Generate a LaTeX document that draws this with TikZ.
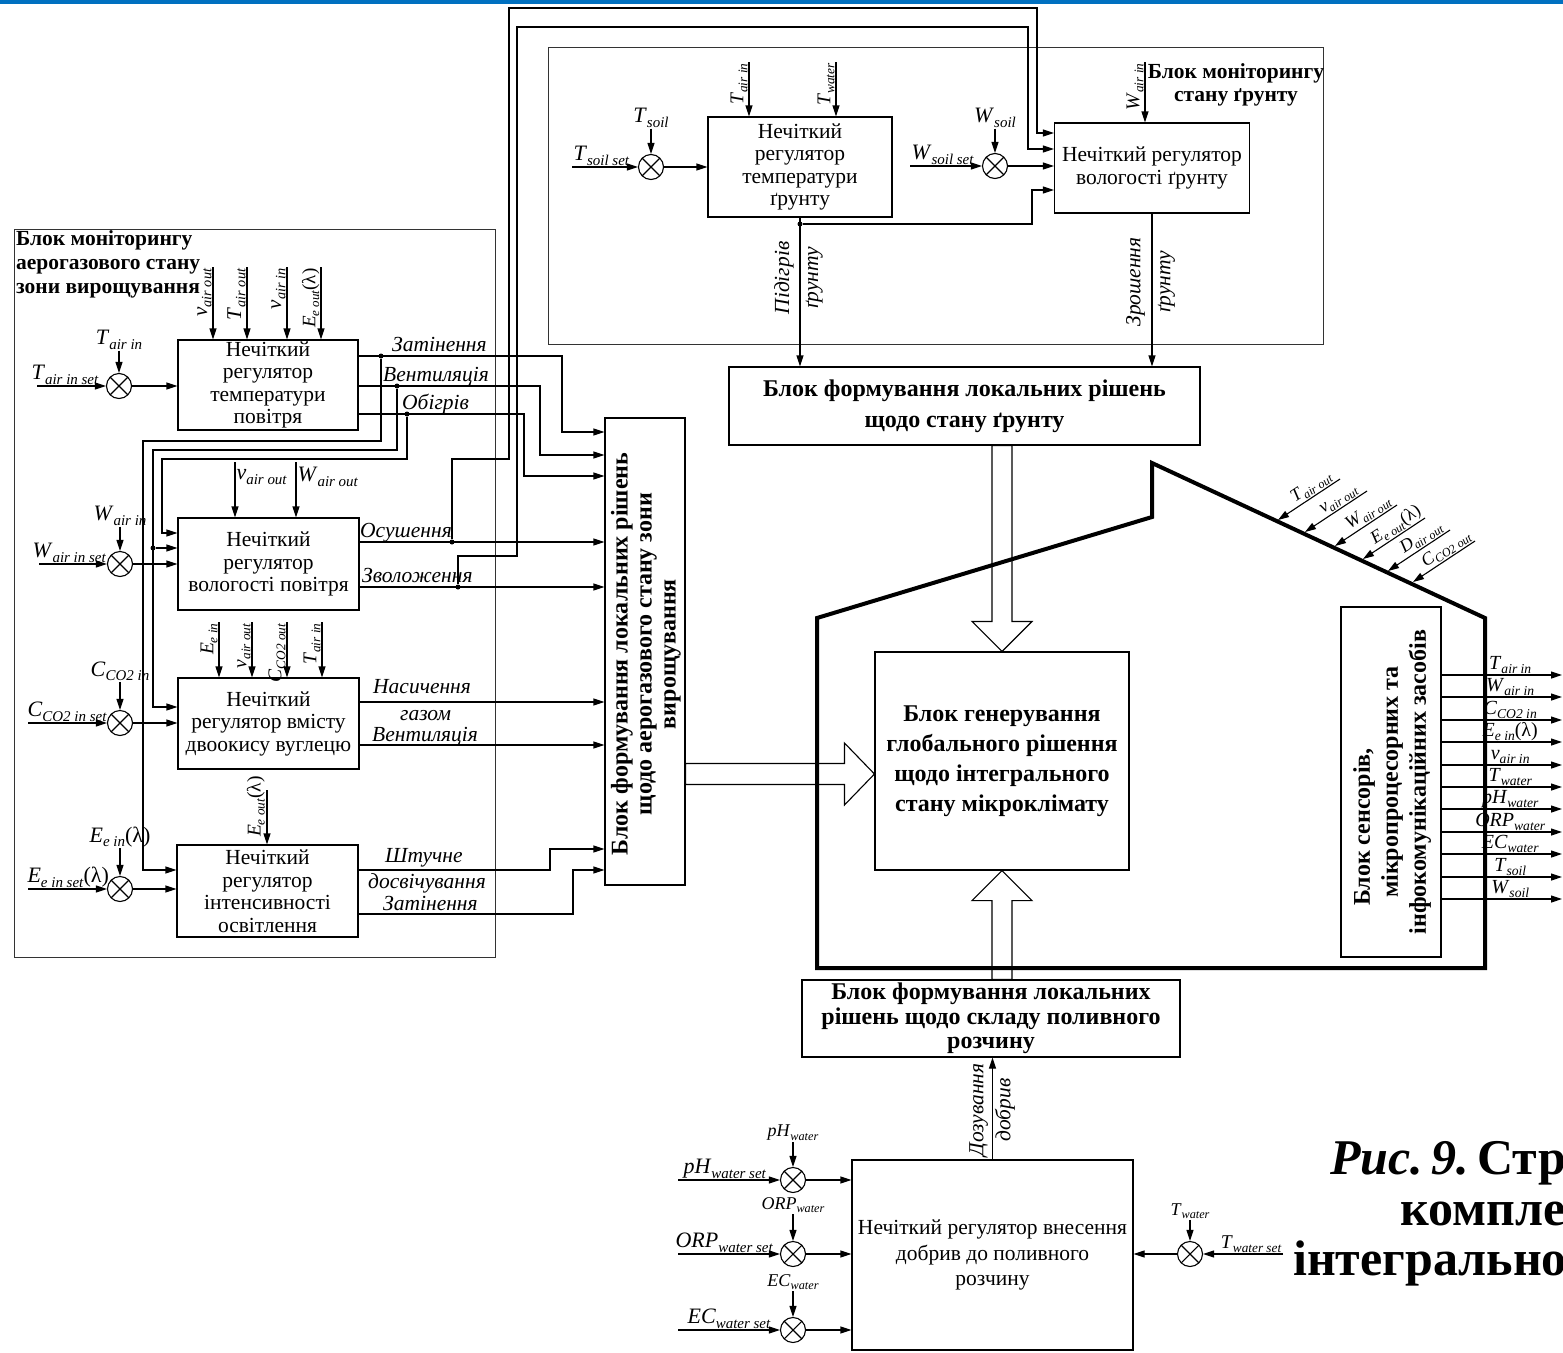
\documentclass[tikz,border=0pt]{standalone}
\usepackage{fontspec}
\setmainfont{Liberation Serif}
\usetikzlibrary{arrows.meta,calc}
\definecolor{topband}{RGB}{0,112,192}
% variable with an italic subscript
\newcommand\qv[2]{\textit{#1}\raisebox{-0.2em}{\scalebox{0.68}{\textit{#2}}}}

\tikzset{
  ln/.style={line width=1.1pt, draw=black},
  arr/.style={ln, -{Triangle[length=11pt,width=7pt]}},
  rarr/.style={ln, {Triangle[length=11pt,width=7pt]}-},
  frame/.style={draw=black!80, line width=1pt, inner sep=0pt},
  blk/.style={draw, line width=1.1pt, align=center, inner sep=1pt, font={\fontsize{21.5}{22.5}\selectfont}},
  bbox/.style={draw, line width=1.1pt, inner sep=0pt},
  btxt/.style={align=center, inner sep=0pt, font={\fontsize{24}{30}\selectfont\bfseries}},
  ttl/.style={inner sep=1pt, font={\fontsize{21.5}{24}\selectfont\bfseries}},
  sumj/.style={circle, draw, line width=1.1pt, minimum size=25pt, inner sep=0pt,
    path picture={\draw[line width=1.1pt] (path picture bounding box.north west) -- (path picture bounding box.south east)
      (path picture bounding box.south west) -- (path picture bounding box.north east);}},
  dotj/.style={circle, fill, inner sep=0pt, minimum size=5pt},
  lab/.style={inner sep=1pt, font={\fontsize{22}{24}\selectfont}},
  qlab/.style={inner sep=1pt, anchor=south, font={\fontsize{20}{22}\selectfont}},
  slab/.style={inner sep=1pt, font={\fontsize{18}{20}\selectfont}},
  vlab/.style={rotate=90, anchor=south east, inner sep=1pt, font={\fontsize{19.5}{21}\selectfont}},
  olab/.style={inner sep=0pt, anchor=base west, font={\fontsize{21.5}{24}\selectfont\itshape}},
  rlab/.style={rotate=90, align=center, inner sep=0pt, font={\fontsize{21.5}{29}\selectfont\itshape}},
  hol/.style={line width=1.1pt, draw=black, line join=miter},
  house/.style={line width=4pt, draw=black, line join=miter},
  captxt/.style={inner sep=0pt, anchor=base west, font={\fontsize{50}{52}\selectfont\bfseries}}
}

\begin{document}
\begin{tikzpicture}[x=1pt,y=-1pt]
\useasboundingbox (0,0) rectangle (1563,1352);
\clip (0,0) rectangle (1563,1352);
\fill[white] (0,0) rectangle (1563,1352);
\fill[topband] (0,0) rectangle (1563,4);

% ================= air monitoring block =================
\node[frame, minimum width=481, minimum height=728] (airmon) at (254.5,593) {};
\node[ttl, anchor=north west, align=left] (airttl) at (15,229) {Блок моніторингу\\аерогазового стану\\зони вирощування};

\node[blk, minimum width=180, minimum height=90] (tr) at (268,385) {Нечіткий\\регулятор\\температури\\повітря};
\node[blk, minimum width=181, minimum height=92] (hr) at (268.5,564) {Нечіткий\\регулятор\\вологості повітря};
\node[blk, minimum width=181, minimum height=91] (cr) at (268.5,723.5) {Нечіткий\\регулятор вмісту\\двоокису вуглецю};
\node[blk, minimum width=181, minimum height=92] (lr) at (267.5,891) {Нечіткий\\регулятор\\інтенсивності\\освітлення};

\node[bbox, minimum width=80, minimum height=467] (dec) at (645,651.5) {};
\node[btxt, rotate=90, font={\fontsize{24}{24}\selectfont\bfseries}] (dectxt) at (646,654) {Блок формування локальних рішень\\щодо аерогазового стану зони\\вирощування};

% air temperature loop
\node[sumj] (sTa) at (119,386) {};
\node[lab] (lTa) at (119,340) {\qv{T}{air in}};
\coordinate (iTa) at (37,386);
\draw[arr] (lTa) -- (sTa);
\draw[arr] (iTa) -- (sTa) node[pos=0, lab, anchor=south west, xshift=-7] (nTa) {\qv{T}{air in set}};
\draw[arr] (sTa) -- (sTa -| tr.west);
\coordinate (tA1) at (213,267);
\coordinate (tA2) at (247,267);
\coordinate (tA3) at (287,267);
\coordinate (tA4) at (321,267);
\draw[arr] (tA1) -- (tA1 |- tr.north) node[pos=0, vlab, font={\fontsize{21}{23}\selectfont}] (ltA1) {\qv{v}{air out}};
\draw[arr] (tA2) -- (tA2 |- tr.north) node[pos=0, vlab, font={\fontsize{21}{23}\selectfont}] (ltA2) {\qv{T}{air out}};
\draw[arr] (tA3) -- (tA3 |- tr.north) node[pos=0, vlab, font={\fontsize{21}{23}\selectfont}] (ltA3) {\qv{v}{air in}};
\draw[arr] (tA4) -- (tA4 |- tr.north) node[pos=0, vlab, font={\fontsize{19}{21}\selectfont}] (ltA4) {\qv{E}{e out}(λ)};

\node[dotj] (d1) at (381,356) {};
\node[dotj] (d2) at (397,386) {};
\node[dotj] (d3) at (407,414) {};
\coordinate (b1) at (562,432);
\coordinate (b2) at (540,455);
\coordinate (b3) at (524,476);
\draw[arr] (tr.east |- d1) -| (b1) -- (b1 -| dec.west);
\draw[arr] (tr.east |- d2) -| (b2) -- (b2 -| dec.west);
\draw[arr] (tr.east |- d3) -| (b3) -- (b3 -| dec.west);
\node[olab] (oT1) at (392,351) {Затінення};
\node[olab] (oT2) at (383,381) {Вентиляція};
\node[olab] (oT3) at (402,409) {Обігрів};

\coordinate (c1) at (143,441);
\coordinate (e1) at (143,870);
\coordinate (c2) at (153,450);
\coordinate (e2) at (153,707);
\coordinate (c3) at (162,459);
\coordinate (e3) at (162,533);
\draw[arr] (d1) |- (c1) -- (e1) -- (e1 -| lr.west);
\draw[arr] (d2) |- (c2) -- (e2) -- (e2 -| cr.west);
\node[dotj] (d4) at (153,548) {};
\draw[arr] (d4) -- (d4 -| hr.west);
\draw[arr] (d3) |- (c3) -- (e3) -- (e3 -| hr.west);

% air humidity loop
\node[sumj] (sWa) at (120,564) {};
\node[lab] (lWa) at (120,516) {\qv{W}{air in}};
\coordinate (iWa) at (39,564);
\draw[arr] (lWa) -- (sWa);
\draw[arr] (iWa) -- (sWa) node[pos=0, lab, anchor=south west, xshift=-8] (nWa) {\qv{W}{air in set}};
\draw[arr] (sWa) -- (sWa -| hr.west);
\coordinate (hA1) at (235,462);
\coordinate (hA2) at (296,462);
\draw[arr] (hA1) -- (hA1 |- hr.north) node[pos=0.27, lab, anchor=west] (lhA1) {\qv{v}{air out}};
\draw[arr] (hA2) -- (hA2 |- hr.north) node[pos=0.27, lab, anchor=west] (lhA2) {\qv{W}{air out}};

\node[dotj] (d5) at (452,542) {};
\node[dotj] (d6) at (458,587) {};
\draw[arr] (hr.east |- d5) -- (d5 -| dec.west);
\draw[arr] (hr.east |- d6) -- (d6 -| dec.west);
\node[olab] (oH1) at (360,537) {Осушення};
\node[olab] (oH2) at (362,582) {Зволоження};

% air CO2 loop
\node[sumj] (sCa) at (120,723) {};
\node[lab] (lCa) at (120,671) {\qv{C}{CO2 in}};
\coordinate (iCa) at (28,723);
\draw[arr] (lCa) -- (sCa);
\draw[arr] (iCa) -- (sCa) node[pos=0, lab, anchor=south west, xshift=-2] (nCa) {\qv{C}{CO2 in set}};
\draw[arr] (sCa) -- (sCa -| cr.west);
\coordinate (cA1) at (219,622);
\coordinate (cA2) at (252,622);
\coordinate (cA3) at (287,622);
\coordinate (cA4) at (322,622);
\draw[arr] (cA1) -- (cA1 |- cr.north) node[pos=0, vlab] (lcA1) {\qv{E}{e in}};
\draw[arr] (cA2) -- (cA2 |- cr.north) node[pos=0, vlab] (lcA2) {\qv{v}{air out}};
\draw[arr] (cA3) -- (cA3 |- cr.north) node[pos=0, vlab] (lcA3) {\qv{C}{CO2 out}};
\draw[arr] (cA4) -- (cA4 |- cr.north) node[pos=0, vlab] (lcA4) {\qv{T}{air in}};
\coordinate (k1) at (600,702);
\coordinate (k2) at (600,745);
\draw[arr] (cr.east |- k1) -- (k1 -| dec.west);
\draw[arr] (cr.east |- k2) -- (k2 -| dec.west);
\node[olab] (oC1) at (373,693) {Насичення};
\node[olab] (oC2) at (400,720) {газом};
\node[olab] (oC3) at (372,741) {Вентиляція};

% illumination loop
\node[sumj] (sEa) at (120,889) {};
\node[lab] (lEa) at (120,837) {\qv{E}{e in}(λ)};
\coordinate (iEa) at (28,889);
\draw[arr] (lEa) -- (sEa);
\draw[arr] (iEa) -- (sEa) node[pos=0, lab, anchor=south west, xshift=-2] (nEa) {\qv{E}{e in set}(λ)};
\draw[arr] (sEa) -- (sEa -| lr.west);
\coordinate (lA1) at (267,790);
\draw[arr] (lA1) -- (lA1 |- lr.north);
\node[vlab] (llA1) at (266,775) {\qv{E}{e out}(λ)};
\coordinate (m1) at (550,849);
\coordinate (m2) at (573,870);
\coordinate (m3) at (573,914);
\draw[arr] (lr.east |- e1) -- (m1 |- e1) -- (m1) -- (m1 -| dec.west);
\draw[arr] (lr.east |- m3) -- (m3) -- (m2) -- (m2 -| dec.west);
\node[olab] (oL1) at (385,862) {Штучне};
\node[olab] (oL2) at (368,888) {досвічування};
\node[olab] (oL3) at (383,910) {Затінення};

% ================= soil monitoring block =================
\node[frame, minimum width=775, minimum height=297] (soilmon) at (935.5,195.5) {};
\node[ttl, align=center, font={\fontsize{21.5}{23}\selectfont\bfseries}] (soilttl) at (1236,85) {Блок моніторингу\\стану ґрунту};
\node[blk, minimum width=184, minimum height=100] (str) at (800,167) {Нечіткий\\регулятор\\температури\\ґрунту};
\node[blk, minimum width=195, minimum height=90] (shr) at (1152,168) {Нечіткий регулятор\\вологості ґрунту};
\node[bbox, btxt, font={\fontsize{24}{31}\selectfont\bfseries}, minimum width=471, minimum height=78] (sdec) at (964.5,406) {Блок формування локальних рішень\\щодо стану ґрунту};

\node[sumj] (sTs) at (651,167) {};
\node[lab] (lTs) at (651,118) {\qv{T}{soil}};
\coordinate (iTs) at (572,167);
\draw[arr] (lTs) -- (sTs);
\draw[arr] (iTs) -- (sTs) node[pos=0, lab, anchor=south west] (nTs) {\qv{T}{soil set}};
\draw[arr] (sTs) -- (sTs -| str.west);

\node[sumj] (sWs) at (995,166) {};
\node[lab] (lWs) at (995,118) {\qv{W}{soil}};
\coordinate (iWs) at (910,166);
\draw[arr] (lWs) -- (sWs);
\draw[arr] (iWs) -- (sWs) node[pos=0, lab, anchor=south west] (nWs) {\qv{W}{soil set}};
\draw[arr] (sWs) -- (sWs -| shr.west);

\coordinate (sA1) at (749,62);
\coordinate (sA2) at (836,62);
\coordinate (sA3) at (1145,62);
\draw[arr] (sA1) -- (sA1 |- str.north) node[pos=0, vlab] (lsA1) {\qv{T}{air in}};
\draw[arr] (sA2) -- (sA2 |- str.north) node[pos=0, vlab] (lsA2) {\qv{T}{water}};
\draw[arr] (sA3) -- (sA3 |- shr.north) node[pos=0, vlab] (lsA3) {\qv{W}{air in}};

\draw[arr] (str.south) -- (str.south |- sdec.north);
\node[dotj] (d7) at (800,224) {};
\coordinate (g3) at (1032,190);
\draw[arr] (d7) -| (g3) -- (g3 -| shr.west);
\draw[arr] (shr.south) -- (shr.south |- sdec.north);
\node[rlab] (pidl) at (798.5,278) {Підігрів\\ґрунту};
\node[rlab, font={\fontsize{21.5}{30}\selectfont\itshape}] (zrol) at (1150.5,282) {Зрошення\\ґрунту};

% feedback lines from the air humidity controller to the soil humidity controller
\coordinate (f1) at (509,459);
\coordinate (f2) at (509,8);
\coordinate (f3) at (1037,8);
\coordinate (g1) at (1037,133);
\draw[arr] (d5) |- (f1) -- (f2) -- (f3) -- (g1) -- (g1 -| shr.west);
\coordinate (f4) at (517,556);
\coordinate (f5) at (517,27);
\coordinate (f6) at (1028,27);
\coordinate (g2) at (1028,149);
\draw[arr] (d6) |- (f4) -- (f5) -- (f6) -- (g2) -- (g2 -| shr.west);

% ================= global block =================
\node[bbox, btxt, minimum width=254, minimum height=218] (glob) at (1002,761) {Блок генерування\\глобального рішення\\щодо інтегрального\\стану мікроклімату};

% sensors block
\node[bbox, minimum width=100, minimum height=350] (sens) at (1391,782) {};
\node[btxt, rotate=90, font={\fontsize{24}{28}\selectfont\bfseries}] (senstxt) at (1392,782) {Блок сенсорів,\hspace*{90pt}\\мікропроцесорних та\\інфокомунікаційних засобів};
\coordinate (q1) at (1562,675);
\coordinate (q2) at (1562,697);
\coordinate (q3) at (1562,720);
\coordinate (q4) at (1562,742);
\coordinate (q5) at (1562,765);
\coordinate (q6) at (1562,787);
\coordinate (q7) at (1562,809);
\coordinate (q8) at (1562,832);
\coordinate (q9) at (1562,854);
\coordinate (q10) at (1562,877);
\coordinate (q11) at (1562,899);
\draw[arr] (q1 -| sens.east) -- (q1) node[pos=0.57, qlab] (lq1) {\qv{T}{air in}};
\draw[arr] (q2 -| sens.east) -- (q2) node[pos=0.57, qlab] (lq2) {\qv{W}{air in}};
\draw[arr] (q3 -| sens.east) -- (q3) node[pos=0.57, qlab] (lq3) {\qv{C}{CO2 in}};
\draw[arr] (q4 -| sens.east) -- (q4) node[pos=0.57, qlab] (lq4) {\qv{E}{e in}(λ)};
\draw[arr] (q5 -| sens.east) -- (q5) node[pos=0.57, qlab] (lq5) {\qv{v}{air in}};
\draw[arr] (q6 -| sens.east) -- (q6) node[pos=0.57, qlab] (lq6) {\qv{T}{water}};
\draw[arr] (q7 -| sens.east) -- (q7) node[pos=0.57, qlab] (lq7) {\qv{pH}{water}};
\draw[arr] (q8 -| sens.east) -- (q8) node[pos=0.57, qlab] (lq8) {\qv{ORP}{water}};
\draw[arr] (q9 -| sens.east) -- (q9) node[pos=0.57, qlab] (lq9) {\qv{EC}{water}};
\draw[arr] (q10 -| sens.east) -- (q10) node[pos=0.57, qlab] (lq10) {\qv{T}{soil}};
\draw[arr] (q11 -| sens.east) -- (q11) node[pos=0.57, qlab] (lq11) {\qv{W}{soil}};

% outdoor measurements on the roof
\coordinate (rh1) at (1278,520);
\coordinate (rh2) at (1305,532);
\coordinate (rh3) at (1335,546);
\coordinate (rh4) at (1363,559);
\coordinate (rh5) at (1388,571);
\coordinate (rh6) at (1413,582);
\draw[rarr] (rh1) -- ++(62,-41) node[pos=0.62, sloped, above, slab] (lr1) {\qv{T}{air out}};
\draw[rarr] (rh2) -- ++(62,-41) node[pos=0.62, sloped, above, slab] (lr2) {\qv{v}{air out}};
\draw[rarr] (rh3) -- ++(62,-41) node[pos=0.62, sloped, above, slab] (lr3) {\qv{W}{air out}};
\draw[rarr] (rh4) -- ++(62,-41) node[pos=0.62, sloped, above, slab] (lr4) {\qv{E}{e out}(λ)};
\draw[rarr] (rh5) -- ++(62,-41) node[pos=0.62, sloped, above, slab] (lr5) {\qv{D}{air out}};
\draw[rarr] (rh6) -- ++(62,-41) node[pos=0.62, sloped, above, slab] (lr6) {\qv{C}{CO2 out}};

% ================= fertiliser block =================
\node[bbox, btxt, font={\fontsize{24}{24.5}\selectfont\bfseries}, minimum width=378, minimum height=77] (fdec) at (991,1018.5) {Блок формування локальних\\рішень щодо складу поливного\\розчину};
\node[blk, font={\fontsize{21.5}{25.5}\selectfont}, minimum width=281, minimum height=190] (frg) at (992.5,1255) {Нечіткий регулятор внесення\\добрив до поливного\\розчину};
\draw[arr] (frg.north) -- (frg.north |- fdec.south);
\node[rlab, font={\fontsize{21.5}{27}\selectfont\itshape}] (dozl) at (992,1110) {Дозування\\добрив};

\node[sumj] (spH) at (793,1180) {};
\node[sumj] (sORP) at (793,1254) {};
\node[sumj] (sEC) at (793,1330) {};
\node[slab] (lpH) at (793,1133) {\qv{pH}{water}};
\node[slab] (lORP) at (793,1205) {\qv{ORP}{water}};
\node[slab] (lEC) at (793,1282) {\qv{EC}{water}};
\draw[arr] (lpH) -- (spH);
\draw[arr] (lORP) -- (sORP);
\draw[arr] (lEC) -- (sEC);
\coordinate (ipH) at (678,1180);
\coordinate (iORP) at (678,1254);
\coordinate (iEC) at (678,1330);
\draw[arr] (ipH) -- (spH) node[pos=0, lab, anchor=south west, xshift=4] (npH) {\qv{pH}{water set}};
\draw[arr] (iORP) -- (sORP) node[pos=0, lab, anchor=south west, xshift=-4] (nORP) {\qv{ORP}{water set}};
\draw[arr] (iEC) -- (sEC) node[pos=0, lab, anchor=south west, xshift=8] (nEC) {\qv{EC}{water set}};
\draw[arr] (spH) -- (spH -| frg.west);
\draw[arr] (sORP) -- (sORP -| frg.west);
\draw[arr] (sEC) -- (sEC -| frg.west);

\node[sumj] (sTw) at (1190,1254) {};
\node[slab] (lTw) at (1190,1211) {\qv{T}{water}};
\coordinate (iTw) at (1283,1254);
\draw[arr] (lTw) -- (sTw);
\draw[arr] (iTw) -- (sTw) node[pos=0, lab, font={\fontsize{19.5}{21}\selectfont}, anchor=south east] (nTw) {\qv{T}{water set}};
\draw[arr] (sTw) -- (sTw -| frg.east);

% ================= wide arrows into the global block =================
\coordinate (hA) at ($(glob.north)+(-10,0)$);
\coordinate (hB) at ($(glob.north)+(10,0)$);
\draw[hol] (glob.north) -- ++(-30,-30) -- ++(20,0) -- (hA |- sdec.south) -- (hB |- sdec.south) -- ($(glob.north)+(10,-30)$) -- ++(20,0) -- cycle;

\coordinate (hw) at ($(glob.west)+(0,13)$);
\coordinate (hw1) at ($(hw)+(-30,-10.5)$);
\coordinate (hw2) at ($(hw)+(-30,10.5)$);
\draw[hol] (hw) -- ++(-30,-31) -- (hw1) -- (hw1 -| dec.east) -- (hw2 -| dec.east) -- (hw2) -- ++(0,20.5) -- cycle;

\coordinate (hs1) at ($(glob.south)+(-10,30)$);
\coordinate (hs2) at ($(glob.south)+(10,30)$);
\draw[hol] (glob.south) -- ++(-30,30) -- (hs1) -- (hs1 |- fdec.north) -- (hs2 |- fdec.north) -- (hs2) -- ++(20,0) -- cycle;

% greenhouse outline
\draw[house] (817,618) -- (817,968) -- (1485,968) -- (1485,618) -- (1152,463) -- (1152,517) -- cycle;

% ================= caption =================
\node[captxt] (cap1) at (1330,1174) {\textit{Рис.\,9.}\,Структура};
\node[captxt] (cap2) at (1400,1225) {комплексу};
\node[captxt] (cap3) at (1293,1275) {інтегрального};
\end{tikzpicture}
\end{document}
